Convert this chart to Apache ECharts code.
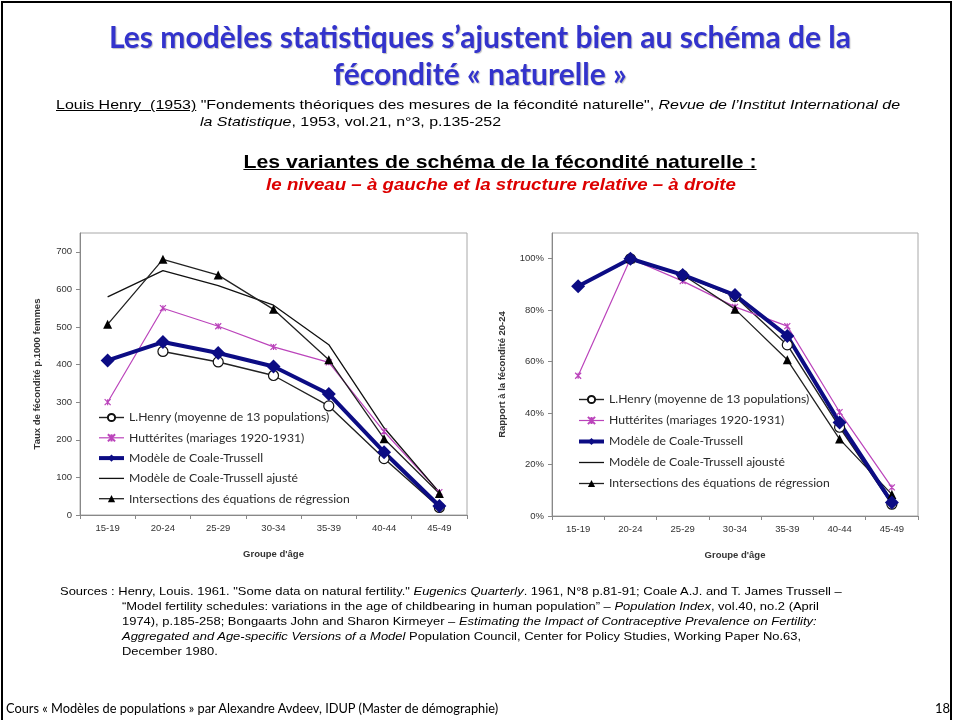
<!DOCTYPE html>
<html>
<head>
<meta charset="utf-8">
<script src="https://cdn.jsdelivr.net/npm/echarts@6/dist/echarts.min.js"></script>
<style>
  body { margin: 0; background: #fff; }
  .slide { position: relative; width: 953px; height: 720px; overflow: hidden; background: #fff; }
  .frame { position: absolute; left: 1px; top: 1px; width: 951px; height: 740px; box-sizing: border-box; border: 2px solid #000; }
  #chart { position: absolute; left: 0; top: 0; width: 953px; height: 720px; }
  .txt { position: absolute; white-space: nowrap; color: #000; }
  .title { left: 0; width: 960px; top: 18px; text-align: center; font-family: Lato, sans-serif; font-weight: bold;
           font-size: 30px; line-height: 37px; color: #3333cc; text-shadow: 1px 1px 1px rgba(0,0,0,0.25); }
  .cite { left: 56px; top: 96px; font-family: "Liberation Sans", Arial, sans-serif; font-size: 13.5px; line-height: 17px;
          transform: scaleX(1.183); transform-origin: 0 0; }
  .sub { left: 0; width: 1000px; top: 151px; text-align: center; font-family: "Liberation Sans", Arial, sans-serif; font-weight: bold; font-size: 17.7px; line-height: 22px; text-decoration: underline;
         transform: scaleX(1.2); transform-origin: 500px 0; }
  .sub2 { left: 0; width: 1002px; top: 175px; text-align: center; font-family: "Liberation Sans", Arial, sans-serif; font-weight: bold; font-style: italic; font-size: 17px; line-height: 20px; color: #dd0000;
          transform: scaleX(1.1); transform-origin: 501px 0; }
  .src { left: 60px; top: 583px; font-family: "Liberation Sans", Arial, sans-serif; font-size: 11.6px; line-height: 15px;
         transform: scaleX(1.117); transform-origin: 0 0; }
  .foot { left: 6px; top: 700px; font-family: Lato, sans-serif; font-size: 12.8px; line-height: 16px; }
  .page { left: 935px; top: 700px; font-family: Lato, sans-serif; font-size: 13px; line-height: 16px; }
</style>
</head>
<body>
<div class="slide">
  <div class="frame"></div>
  <div id="chart"></div>
  <div class="txt title">Les modèles statistiques s’ajustent bien au schéma de la<br>fécondité « naturelle »</div>
  <div class="txt cite"><u>Louis Henry&nbsp; (1953)</u> "Fondements théoriques des mesures de la fécondité naturelle", <i>Revue de l’Institut International de</i><br><span style="padding-left:121.7px"><i>la Statistique</i>, 1953, vol.21, n°3, p.135-252</span></div>
  <div class="txt sub">Les variantes de schéma de la fécondité naturelle :</div>
  <div class="txt sub2">le niveau – à gauche et la structure relative – à droite</div>
  <div class="txt src">Sources : Henry, Louis. 1961. "Some data on natural fertility." <i>Eugenics Quarterly</i>. 1961, N°8 p.81-91; Coale A.J. and T. James Trussell –<br>
    <span style="padding-left:55.5px">“Model fertility schedules: variations in the age of childbearing in human population” – <i>Population Index</i>, vol.40, no.2 (April</span><br>
    <span style="padding-left:55.5px">1974), p.185-258; Bongaarts John and Sharon Kirmeyer – <i>Estimating the Impact of Contraceptive Prevalence on Fertility:</i></span><br>
    <span style="padding-left:55.5px"><i>Aggregated and Age-specific Versions of a Model</i> Population Council, Center for Policy Studies, Working Paper No.63,</span><br>
    <span style="padding-left:55.5px">December 1980.</span></div>
  <div class="txt foot">Cours « Modèles de populations » par Alexandre Avdeev, IDUP (Master de démographie)</div>
  <div class="txt page">18</div>
</div>
<script>
var ageGroups = ['15-19', '20-24', '25-29', '30-34', '35-39', '40-44', '45-49'];

// niveau (taux p.1000 femmes)
var henryLevel = [null, 435, 407, 371, 290, 150, 20];
var hutteritesLevel = [300, 550, 502, 447, 406, 222, 61];
var coaleLevel = [411, 460, 431, 395, 322, 167, 24];
var coaleAdjLevel = [580, 650, 610, 558, 453, 232, 60];
var regressLevel = [507, 680, 638, 547, 413, 203, 57];

// structure relative (% de la fécondité 20-24)
var henryRel = [null, 100, 93.5, 85.3, 66.5, 34.5, 4.6];
var hutteritesRel = [54.5, 100, 91.3, 81.3, 73.8, 40.4, 11.1];
var coaleRel = [89.3, 100, 93.7, 85.9, 70, 36.3, 5.2];
var coaleAdjRel = [89.2, 100, 93.8, 85.8, 69.7, 35.7, 6];
var regressRel = [null, 100, 93.8, 80.4, 60.7, 29.9, 8.4];

var legendNamesL = ['L.Henry (moyenne de 13 populations)', 'Huttérites (mariages 1920-1931)', 'Modèle de Coale-Trussell',
  'Modèle de Coale-Trussell ajusté', 'Intersections des équations de régression'];
var legendNamesR = ['L.Henry (moyenne de 13 populations) ', 'Huttérites (mariages 1920-1931) ', 'Modèle de Coale-Trussell ',
  'Modèle de Coale-Trussell ajousté', 'Intersections des équations de régression '];

var axisFont = 'Liberation Sans';
var magenta = '#bb44bb';
var navy = '#0c0c84';
var star = 'path://M0,0L10,10M10,0L0,10M5,0L5,10';

function seriesSet(idx, names, vals) {
  return [
    { name: names[0], type: 'line', xAxisIndex: idx, yAxisIndex: idx, data: vals[0],
      symbol: 'circle', symbolSize: 10,
      itemStyle: { color: '#fff', borderColor: '#111', borderWidth: 1.2 },
      lineStyle: { color: '#222', width: 1.4 } },
    { name: names[1], type: 'line', xAxisIndex: idx, yAxisIndex: idx, data: vals[1],
      symbol: star, symbolSize: 6,
      itemStyle: { color: 'rgba(0,0,0,0)', borderColor: magenta, borderWidth: 1.2 },
      lineStyle: { color: magenta, width: 1.2 } },
    { name: names[3], type: 'line', xAxisIndex: idx, yAxisIndex: idx, data: vals[3],
      symbol: 'circle', showSymbol: false,
      itemStyle: { color: 'rgba(0,0,0,0)', borderWidth: 0 },
      lineStyle: { color: '#111', width: 1.3 } },
    { name: names[4], type: 'line', xAxisIndex: idx, yAxisIndex: idx, data: vals[4],
      symbol: 'triangle', symbolSize: 9,
      itemStyle: { color: '#000' },
      lineStyle: { color: '#222', width: 1.3 } },
    { name: names[2], type: 'line', xAxisIndex: idx, yAxisIndex: idx, data: vals[2],
      symbol: 'diamond', symbolSize: 14,
      itemStyle: { color: navy },
      lineStyle: { color: navy, width: 4 } }
  ];
}

function xAxisCfg(idx) {
  return {
    type: 'category', gridIndex: idx, data: ageGroups, boundaryGap: true,
    name: 'Groupe d\'âge', nameLocation: 'middle', nameGap: 34,
    nameTextStyle: { fontFamily: axisFont, fontWeight: 'bold', fontSize: 9.5, color: '#333' },
    axisLine: { lineStyle: { color: '#888', width: 1 } },
    axisTick: { show: true, length: 4, lineStyle: { color: '#888' } },
    axisLabel: { fontFamily: axisFont, fontSize: 9.5, color: '#333', margin: 8 }
  };
}

function legendCfg(names, left, top, gap) {
  return {
    data: names, orient: 'vertical', left: left, top: top, padding: 0,
    itemWidth: 25, itemHeight: 9, itemGap: gap,
    lineStyle: { width: 'inherit' },
    textStyle: { fontFamily: 'Lato', fontSize: 12.2, color: '#2a2a2a' }
  };
}

var chart = echarts.init(document.getElementById('chart'));
chart.setOption({
  animation: false,
  grid: [
    { left: 80, top: 233, width: 387, height: 282, show: true, borderColor: '#a8a8a8', borderWidth: 1, backgroundColor: '#fff' },
    { left: 552, top: 233, width: 366, height: 283, show: true, borderColor: '#a8a8a8', borderWidth: 1, backgroundColor: '#fff' }
  ],
  xAxis: [xAxisCfg(0), xAxisCfg(1)],
  yAxis: [
    { type: 'value', gridIndex: 0, min: 0, max: 750, interval: 100,
      name: 'Taux de fécondité p.1000 femmes', nameLocation: 'middle', nameGap: 38, nameRotate: 90,
      nameTextStyle: { fontFamily: axisFont, fontWeight: 'bold', fontSize: 9.5, color: '#333' },
      axisLine: { show: true, lineStyle: { color: '#888' } },
      axisTick: { show: true, length: 4, lineStyle: { color: '#888' } },
      splitLine: { show: false },
      axisLabel: { fontFamily: axisFont, fontSize: 9.5, color: '#333', margin: 8, showMaxLabel: false } },
    { type: 'value', gridIndex: 1, min: 0, max: 110, interval: 20,
      name: 'Rapport à la fécondité 20-24', nameLocation: 'middle', nameGap: 45, nameRotate: 90,
      nameTextStyle: { fontFamily: axisFont, fontWeight: 'bold', fontSize: 9.5, color: '#333' },
      axisLine: { show: true, lineStyle: { color: '#888' } },
      axisTick: { show: true, length: 4, lineStyle: { color: '#888' } },
      splitLine: { show: false },
      axisLabel: { fontFamily: axisFont, fontSize: 9.5, color: '#333', margin: 8, showMaxLabel: false, formatter: '{value}%' } }
  ],
  legend: [
    legendCfg(legendNamesL, 97, 411.5, 8.3),
    legendCfg(legendNamesR, 577, 393.5, 9)
  ],
  series: seriesSet(0, legendNamesL, [henryLevel, hutteritesLevel, coaleLevel, coaleAdjLevel, regressLevel])
    .concat(seriesSet(1, legendNamesR, [henryRel, hutteritesRel, coaleRel, coaleAdjRel, regressRel]))
});
</script>
</body>
</html>
